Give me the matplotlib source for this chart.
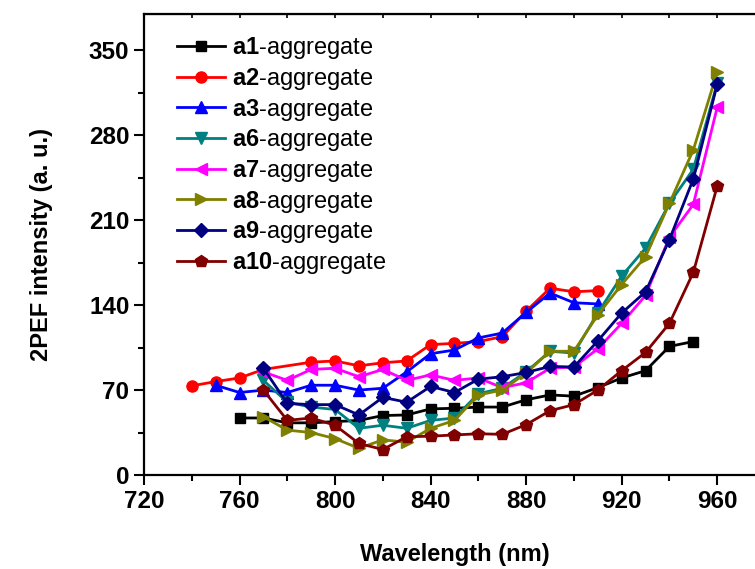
import matplotlib
matplotlib.use("Agg")
import matplotlib.pyplot as plt
from matplotlib.ticker import MultipleLocator

plt.rcParams['font.family'] = ['Liberation Sans', 'DejaVu Sans']
plt.rcParams['mathtext.fontset'] = 'custom'
plt.rcParams['mathtext.rm'] = 'Liberation Sans'
plt.rcParams['mathtext.bf'] = 'Liberation Sans:bold'

# wavelengths (nm) and 2PEF intensities
wl_a1 = [760, 770, 780, 790, 800, 810, 820, 830, 840, 850, 860, 870, 880, 890, 900, 910, 920, 930, 940, 950]
a1 = [47, 47, 43, 43, 44, 45, 49, 49.5, 54.5, 55, 56, 56, 62, 66, 65, 72, 80, 86, 106, 110]

wl_a2 = [740, 750, 760, 770, 790, 800, 810, 820, 830, 840, 850, 860, 870, 880, 890, 900, 910]
a2 = [73.5, 77, 80, 87, 93, 94, 90, 92.5, 94, 107.5, 108.5, 110, 114, 135, 154, 151, 152]

wl_a3 = [750, 760, 770, 780, 790, 800, 810, 820, 830, 840, 850, 860, 870, 880, 890, 900, 910]
a3 = [74, 68, 70, 68, 74, 74, 70, 71.5, 85, 100, 103, 113, 117, 134, 150, 142, 141]

wl_long = [770, 780, 790, 800, 810, 820, 830, 840, 850, 860, 870, 880, 890, 900, 910, 920, 930, 940, 950, 960]
a6 = [78, 60, 56, 54, 38.5, 41, 38.5, 45, 47, 67, 71.5, 85, 102, 100.5, 133.5, 164, 187, 224, 252, 323]
a7 = [85, 78, 87, 88, 81, 87, 78, 82.5, 78, 80, 72, 76, 88, 89, 104, 125, 148, 196, 223, 303]
a8 = [48, 37, 35, 30, 22, 29, 27, 38.5, 45, 66, 70, 84, 102, 102, 132, 157, 180, 224, 268, 332]
a9 = [88, 59, 58, 58, 49.5, 64, 60, 73, 68, 79, 81, 84.5, 89.5, 89, 110.5, 133.5, 151, 194, 244, 322]
a10 = [70, 45, 47, 41, 26, 21, 31.5, 32, 33, 34, 33.5, 41.5, 53, 58, 70, 86, 101, 125, 167, 238]

series = [
    ("a1", wl_a1, a1, "#000000", "s", 7),
    ("a2", wl_a2, a2, "#FF0000", "o", 8),
    ("a3", wl_a3, a3, "#0000FF", "^", 9),
    ("a6", wl_long, a6, "#008080", "v", 9),
    ("a7", wl_long, a7, "#FF00FF", "<", 9),
    ("a8", wl_long, a8, "#808000", ">", 9),
    ("a9", wl_long, a9, "#000080", "D", 7),
    ("a10", wl_long, a10, "#800000", "p", 9),
]

fig = plt.figure(figsize=(7.55, 5.69), dpi=100)
ax = fig.add_axes([0.1907, 0.1652, 0.8225, 0.8102])

for name, x, y, col, mk, ms in series:
    ax.plot(x, y, color=col, marker=mk, markersize=ms, linewidth=2,
            label=r"$\mathbf{%s}$-aggregate" % name)

ax.set_xlim(720, 980)
ax.set_ylim(0, 380)
ax.xaxis.set_major_locator(MultipleLocator(40))
ax.xaxis.set_minor_locator(MultipleLocator(20))
ax.set_yticks([0, 70, 140, 210, 280, 350])
ax.yaxis.set_minor_locator(MultipleLocator(35))

for s in ax.spines.values():
    s.set_linewidth(1.6)
ax.tick_params(which='major', direction='out', length=7, width=1.5, labelsize=17.5)
ax.tick_params(which='minor', direction='out', length=4, width=1.5)
for lbl in ax.get_xticklabels() + ax.get_yticklabels():
    lbl.set_fontweight('bold')

top = ax.secondary_xaxis('top')
top.xaxis.set_major_locator(MultipleLocator(20))
top.tick_params(direction='in', length=3, width=1.2, labeltop=False)

ax.set_xlabel("Wavelength (nm)", fontsize=17, fontweight='bold', labelpad=22)
ax.set_ylabel("2PEF intensity (a. u.)", fontsize=17, fontweight='bold', labelpad=26)

ax.legend(loc='upper left', bbox_to_anchor=(0.031, 0.985), frameon=False,
          fontsize=17, handlelength=2.0, handletextpad=0.3, labelspacing=0.2,
          borderaxespad=0.2)

fig.savefig("out.png", dpi=100)
